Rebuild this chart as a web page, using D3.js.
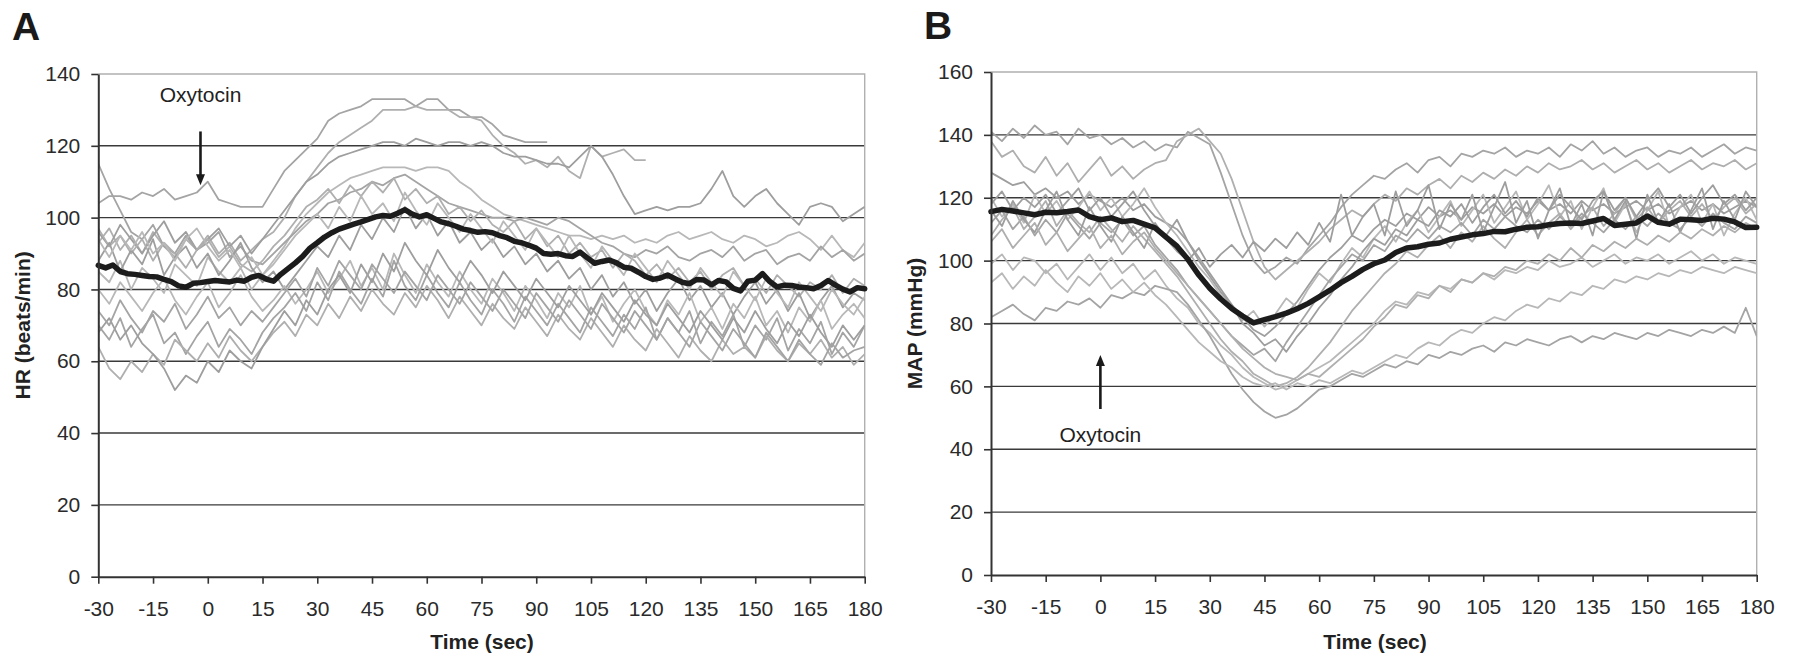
<!DOCTYPE html>
<html>
<head>
<meta charset="utf-8">
<script src="https://cdn.jsdelivr.net/npm/d3@7"></script>
<style>
  body { margin: 0; background: #fff; }
  text { font-family: "Liberation Sans", Arial, sans-serif; }
</style>
</head>
<body>
<div id="chart"></div>
<script>
// Shared time axis (sec)
var timeTicks = [-30, -15, 0, 15, 30, 45, 60, 75, 90, 105, 120, 135, 150, 165, 180];
var hrTicks = [0, 20, 40, 60, 80, 100, 120, 140];
var mapTicks = [0, 20, 40, 60, 80, 100, 120, 140, 160];

// individual traces are sampled every 3 s starting at -30 s
var traceStart = -30, traceStep = 3;

// Panel A: heart rate, one row per subject
var hrTraces = [
  [104,106,106,105,107,106,108,105,106,107,110,105,104,103,103,103,108,113,116,119,122,127,129,130,131,133,133,133,133,131,133,133,130,130,128,128,126,123,122,121,121,121],
  [93,97,91,95,90,96,92,89,94,91,95,90,93,88,91,94,96,100,106,110,114,118,121,123,125,127,130,130,130,131,130,130,130,128,128,127,123,120,118,115,116,114,117,113,111,120,117,118,119,116,116],
  [96,92,98,94,90,95,99,93,96,91,94,97,92,95,90,94,98,102,106,110,112,115,117,118,119,120,121,121,120,122,121,120,121,121,120,121,120,118,117,117,116,115,115,114,117,120,117,112,106,101,102,103,102,103,103,104,108,113,106,103,106,108,104,101,98,103,104,103,99,101,103],
  [85,82,88,80,86,83,79,87,84,81,89,85,82,86,80,84,88,92,97,101,104,107,109,111,112,113,114,114,114,113,114,114,113,110,108,105,103,101,100,99,98,97,96,95,95,94,95,94,95,93,94,93,95,96,94,95,96,94,93,95,94,92,93,95,96,94,91,95,91,89,93],
  [115,108,102,96,94,98,92,90,95,91,93,96,89,92,88,87,90,93,96,99,101,104,105,107,108,110,109,111,112,110,108,106,104,103,102,101,100,100,99,100,99,98,100,99,97,95,93,92,90,89,91,90,92,89,88,90,91,89,92,88,90,91,87,89,90,88,92,89,91,88,90],
  [97,92,95,90,94,88,93,90,86,91,94,89,92,87,85,88,92,95,99,103,105,108,104,109,106,110,107,111,105,108,104,106,101,103,99,102,98,96,99,94,97,92,95,90,93,89,91,86,90,88,84,87,83,86,82,85,80,84,86,81,83,79,84,81,78,82,80,84,79,83,81],
  [88,93,85,91,87,94,84,89,92,86,90,84,88,93,86,82,85,80,84,88,92,89,95,91,98,94,100,96,103,97,101,95,99,93,96,91,94,89,92,87,90,85,88,83,86,80,84,78,82,76,80,74,79,83,77,81,75,79,73,78,82,76,80,74,79,72,77,81,75,79,77],
  [80,76,82,78,74,79,83,77,73,78,82,75,79,84,78,74,77,81,76,80,85,79,83,88,81,86,80,90,84,79,87,82,78,85,80,76,83,79,74,81,77,72,79,75,81,73,78,71,76,80,74,70,77,73,79,71,75,69,76,72,78,70,74,68,75,71,77,69,73,76,72],
  [70,66,72,64,69,73,65,68,62,67,71,64,69,66,62,68,72,75,79,74,82,77,85,80,76,83,78,88,81,77,84,79,75,82,77,73,80,76,71,78,74,70,76,72,68,75,71,67,73,69,75,66,72,68,74,65,71,67,73,64,70,66,72,63,69,65,71,62,68,64,70],
  [64,58,55,60,57,62,59,66,63,60,65,61,67,63,60,64,68,71,67,73,70,76,72,78,74,80,76,73,79,75,81,77,72,78,74,70,76,72,69,75,71,67,73,69,66,72,68,64,70,66,63,69,65,61,67,63,60,66,62,64,61,67,63,60,65,62,66,61,64,59,62],
  [68,72,66,70,65,62,58,52,56,54,60,57,63,60,58,64,69,74,70,77,73,80,84,79,87,82,90,85,93,88,84,91,86,82,88,84,79,85,81,77,83,79,75,81,77,73,79,75,71,77,73,70,76,72,68,74,70,66,72,68,74,69,65,71,67,73,68,64,70,66,70],
  [94,89,95,91,96,90,93,88,94,97,92,88,91,86,89,84,87,91,95,98,101,97,103,99,106,101,104,99,107,102,98,104,100,96,101,97,93,99,95,91,97,93,89,95,90,86,92,88,84,90,86,82,88,84,80,86,82,78,85,81,77,83,79,75,82,78,74,80,76,73,78],
  [74,70,77,72,68,74,71,76,69,73,78,72,75,70,74,71,75,79,83,78,86,81,88,84,80,87,83,79,85,81,77,84,80,76,82,78,74,80,76,72,79,75,71,77,73,69,76,72,68,74,70,66,72,68,64,71,67,63,69,65,61,68,64,60,66,62,59,65,61,63,64]
];

// Panel A mean heart rate, every 2 s from -30 s
var hrMean = [86.7,86.0,86.8,85.0,84.4,84.2,83.9,83.6,83.5,82.8,82.2,81.0,80.6,81.7,81.9,82.2,82.5,82.3,82.1,82.6,82.3,83.4,83.9,82.9,82.3,
  84.2,85.8,87.4,89.2,91.5,93.0,94.6,95.8,96.8,97.5,98.2,98.8,99.5,100.2,100.6,100.4,101.2,102.2,101.0,100.2,100.8,99.8,98.8,98.3,97.6,
  96.8,96.4,95.9,96.1,95.8,95.0,94.4,93.4,93.0,92.3,91.5,90.0,89.8,90.0,89.4,89.2,90.4,88.8,87.3,87.8,88.2,87.4,86.2,85.9,84.8,
  83.6,82.8,83.2,84.0,83.0,82.0,81.6,82.8,82.6,81.3,82.5,82.1,80.3,79.6,82.3,82.6,84.4,82.2,80.7,81.2,81.1,80.7,80.5,80.2,81.1,
  82.5,81.2,80.1,79.3,80.5,80.2];

// Panel B: mean arterial pressure, one row per subject
var mapTraces = [
  [141,138,142,139,143,140,141,137,142,139,140,137,139,136,138,135,137,136,141,139,137,128,118,108,100,96,98,101,99,104,108,112,117,121,124,127,126,129,131,128,132,133,130,134,133,135,134,136,133,135,134,136,133,137,135,138,134,136,133,135,136,133,135,134,136,133,135,137,134,136,135],
  [138,133,135,130,128,133,127,131,125,129,133,127,130,126,129,131,132,138,140,142,138,134,126,116,106,98,94,97,100,103,106,110,113,116,114,118,121,119,123,121,124,126,123,127,125,128,126,129,127,130,128,131,129,130,132,129,131,128,130,132,129,131,128,130,132,129,131,130,132,129,131],
  [128,126,124,125,121,123,120,122,118,121,119,117,120,116,118,114,112,110,106,101,96,91,86,82,78,76,79,83,87,92,97,101,104,108,106,110,113,111,115,113,117,114,116,113,117,115,118,114,117,115,119,116,118,115,119,116,118,115,117,119,116,118,115,117,119,116,118,115,117,119,117],
  [120,114,118,112,121,115,119,113,117,122,116,120,114,118,123,117,112,108,103,98,94,89,85,81,84,79,83,88,85,91,96,93,99,104,101,107,111,106,112,116,109,114,119,111,116,121,112,117,122,113,118,124,114,119,110,117,123,112,118,109,116,122,111,117,121,112,118,108,115,120,113],
  [112,116,110,114,108,113,109,115,111,107,112,109,113,108,111,105,101,97,92,88,84,80,76,73,70,72,68,74,79,84,89,94,98,102,100,105,103,108,106,110,107,111,109,112,108,113,110,114,111,109,113,110,114,111,115,112,109,113,110,114,111,115,112,110,114,111,115,112,110,114,112],
  [108,113,117,110,114,119,111,116,112,109,114,110,106,111,107,103,99,95,90,85,80,75,71,68,64,62,60,61,63,66,70,74,79,84,88,92,96,99,103,101,105,108,104,109,106,111,107,104,109,113,108,112,115,110,114,117,111,115,120,113,117,112,116,119,114,118,113,117,120,115,118],
  [116,111,119,113,109,116,122,113,108,117,111,106,114,109,104,112,107,103,100,104,98,102,105,101,106,103,107,104,109,105,112,106,121,108,114,118,108,122,111,116,124,110,118,113,121,109,117,125,112,119,107,116,123,111,118,108,122,113,119,107,121,112,118,109,116,123,110,119,113,122,117],
  [99,102,97,101,100,96,99,94,98,102,97,101,96,99,94,97,92,88,85,80,77,73,70,66,63,61,59,60,62,64,66,68,71,74,77,80,84,87,86,90,89,92,91,94,93,96,94,97,96,98,97,100,98,99,101,98,100,102,99,101,100,102,99,101,103,100,102,99,101,100,99],
  [82,84,86,83,81,85,84,87,86,88,85,89,88,90,89,92,91,90,86,81,76,70,64,59,55,52,50,51,53,56,59,60,62,64,63,65,67,66,68,67,70,69,71,70,72,73,71,74,73,75,74,73,75,76,74,76,75,77,76,75,77,76,78,77,76,78,77,79,77,85,76],
  [106,110,104,108,112,105,109,103,107,111,104,108,102,106,109,104,100,96,92,88,84,80,76,72,69,66,64,63,62,64,63,66,69,72,75,79,82,86,85,89,88,92,90,94,93,96,95,98,97,100,99,102,100,104,101,105,103,106,104,107,105,108,106,109,107,110,108,111,109,112,110],
  [118,122,116,120,117,121,115,119,123,116,120,114,118,122,116,111,108,113,106,100,95,90,86,80,77,73,75,71,76,80,85,89,94,98,103,107,105,110,108,113,111,116,114,118,112,117,121,115,119,114,120,116,121,117,113,119,122,116,120,114,119,123,117,121,115,120,124,118,121,116,120],
  [93,96,91,95,92,97,93,90,95,92,96,91,94,90,93,89,86,82,78,74,71,68,66,63,61,60,61,59,61,60,62,61,63,65,64,66,68,70,69,72,74,73,76,78,77,80,82,81,84,86,85,88,87,90,89,92,91,94,93,95,94,96,95,97,96,98,97,96,98,97,96]
];

// Panel B mean arterial pressure, every 3 s from -30 s
var mapMean = [115.6,116.3,115.8,115.2,114.6,115.4,115.2,115.6,116.1,114.0,113.0,113.6,112.4,112.8,111.6,110.4,107.5,104.6,100.4,95.4,
  91.2,87.8,84.8,82.4,80.2,81.2,82.2,83.3,84.7,86.4,88.5,90.6,93.0,95.0,97.2,99.0,100.2,102.6,104.0,104.4,
  105.2,105.6,106.8,107.5,108.2,108.6,109.3,109.2,110.0,110.6,110.8,111.4,111.8,112.0,111.8,112.6,113.4,111.2,111.6,112.0,
  114.2,112.2,111.6,113.2,113.0,112.8,113.5,113.2,112.3,110.5,110.6];

// Set the size of the picture
var svg = d3.select("#chart")
  .append("svg")
    .attr("width", 1793)
    .attr("height", 656);

var panels = [
  { letter: "A", letterX: 12, letterY: 40, left: 98.3, right: 864.7, top: 74, bottom: 576.7,
    yMax: 140, yTicks: hrTicks, traces: hrTraces, mean: hrMean, meanStep: 2,
    yTitle: "HR (beats/min)", yTitleX: 30, xTitleX: 482,
    arrow: { t: -2, from: 124, to: 109, label: 132.3 } },
  { letter: "B", letterX: 924, letterY: 39, left: 991, right: 1756.7, top: 72, bottom: 575,
    yMax: 160, yTicks: mapTicks, traces: mapTraces, mean: mapMean, meanStep: 3,
    yTitle: "MAP (mmHg)", yTitleX: 922, xTitleX: 1375,
    arrow: { t: 0, from: 52.8, to: 70, label: 42.4 } }
];

var traceColors = ["#a4a4a4", "#afafaf", "#9e9e9e", "#b8b8b8"];

// plain hyphen for negative ticks, like the original
var plainFormat = function(d) { return String(d); };

panels.forEach(function(p, k) {

  var x = d3.scaleLinear().domain([-30, 180]).range([p.left, p.right]);
  var y = d3.scaleLinear().domain([0, p.yMax]).range([p.bottom, p.top]);
  var g = svg.append("g");

  // clip the traces to the plot area
  g.append("clipPath").attr("id", "clip" + k)
    .append("rect")
      .attr("x", p.left).attr("y", p.top)
      .attr("width", p.right - p.left).attr("height", p.bottom - p.top);

  // horizontal gridlines
  g.selectAll(".grid")
    .data(p.yTicks.filter(function(v) { return v > 0 && v < p.yMax; }))
    .enter()
    .append("line")
      .attr("x1", p.left).attr("x2", p.right)
      .attr("y1", function(d) { return y(d); })
      .attr("y2", function(d) { return y(d); })
      .attr("stroke", "#3a3a3a")
      .attr("stroke-width", 1.4);

  // light frame on top and right
  g.append("path")
    .attr("d", "M" + p.left + "," + y(p.yMax) + "H" + p.right + "V" + p.bottom)
    .attr("fill", "none")
    .attr("stroke", "#b0b0b0")
    .attr("stroke-width", 1.4);

  var traceLine = d3.line()
    .x(function(d, i) { return x(traceStart + i * traceStep); })
    .y(function(d) { return y(d); });

  g.append("g")
    .attr("clip-path", "url(#clip" + k + ")")
    .selectAll("path")
    .data(p.traces)
    .enter()
    .append("path")
      .attr("d", traceLine)
      .attr("fill", "none")
      .attr("stroke", function(d, i) { return traceColors[i % traceColors.length]; })
      .attr("stroke-width", 1.8)
      .attr("stroke-linejoin", "round");

  // group mean
  var meanLine = d3.line()
    .x(function(d, i) { return x(-30 + i * p.meanStep); })
    .y(function(d) { return y(d); });

  g.append("path")
    .attr("d", meanLine(p.mean))
    .attr("fill", "none")
    .attr("stroke", "#1c1c1c")
    .attr("stroke-width", 5.5)
    .attr("stroke-linejoin", "round")
    .attr("stroke-linecap", "round");

  // axes
  var yAxis = g.append("g")
    .attr("transform", "translate(" + p.left + ",0)")
    .call(d3.axisLeft(y).tickValues(p.yTicks).tickFormat(plainFormat)
      .tickSize(7).tickSizeOuter(0).tickPadding(11));
  var xAxis = g.append("g")
    .attr("transform", "translate(0," + p.bottom + ")")
    .call(d3.axisBottom(x).tickValues(timeTicks).tickFormat(plainFormat)
      .tickSize(7).tickSizeOuter(0).tickPadding(17));

  [yAxis, xAxis].forEach(function(a) {
    a.attr("color", "#333")
      .attr("font-size", 21)
      .attr("font-family", "Liberation Sans, Arial, sans-serif");
    a.select(".domain").attr("stroke-width", 2);
    a.selectAll(".tick line").attr("stroke-width", 1.6);
    a.selectAll(".tick text").attr("fill", "#2a2a2a");
  });

  // axis titles
  g.append("text")
    .attr("x", p.xTitleX)
    .attr("y", 649)
    .attr("text-anchor", "middle")
    .attr("font-size", "21px")
    .attr("font-weight", "bold")
    .attr("fill", "#222")
    .text("Time (sec)");

  g.append("text")
    .attr("transform", "translate(" + p.yTitleX + "," + ((p.top + p.bottom) / 2) + ") rotate(-90)")
    .attr("text-anchor", "middle")
    .attr("font-size", "21px")
    .attr("font-weight", "bold")
    .attr("fill", "#222")
    .text(p.yTitle);

  // panel letter
  g.append("text")
    .attr("x", p.letterX)
    .attr("y", p.letterY)
    .attr("font-size", "39px")
    .attr("font-weight", "bold")
    .attr("fill", "#1a1a1a")
    .text(p.letter);

  // oxytocin marker
  var ax = x(p.arrow.t), y0 = y(p.arrow.from), y1 = y(p.arrow.to);
  var dir = y1 > y0 ? 1 : -1;
  g.append("line")
    .attr("x1", ax).attr("x2", ax)
    .attr("y1", y0).attr("y2", y1 - dir * 8)
    .attr("stroke", "#1a1a1a")
    .attr("stroke-width", 2.6);
  g.append("path")
    .attr("d", "M" + (ax - 4.5) + "," + (y1 - dir * 11) + "L" + (ax + 4.5) + "," + (y1 - dir * 11) + "L" + ax + "," + y1 + "Z")
    .attr("fill", "#1a1a1a");
  g.append("text")
    .attr("x", ax)
    .attr("y", y(p.arrow.label))
    .attr("text-anchor", "middle")
    .attr("font-size", "21px")
    .attr("fill", "#222")
    .text("Oxytocin");
});
</script>
</body>
</html>
